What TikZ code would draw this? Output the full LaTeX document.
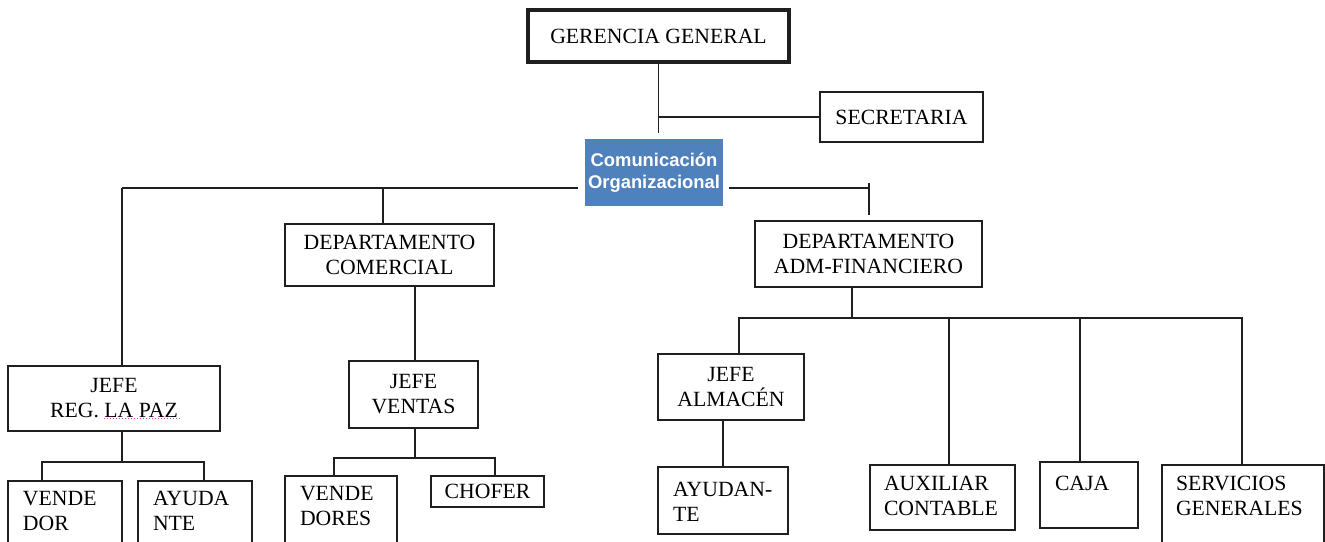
\documentclass[tikz,border=0pt]{standalone}
\usepackage{fontspec}
\setmainfont{Liberation Serif}
\newfontfamily\labelsans{Liberation Sans}
\definecolor{orgblue}{HTML}{4F81BD}
\definecolor{spellmark}{HTML}{D040D0}

% box from corner (x1,y1) to (x2,y2), y grows downward
\newcommand\orgnode[7][]{%
  \node[orgbox,#1,minimum width={(#4-#2)*1pt},minimum height={(#5-#3)*1pt}]
    (#6) at ({(#2+#4)/2},{(#3+#5)/2}) {#7};}

\begin{document}
\begin{tikzpicture}[x=1pt,y=-1pt,
  every node/.style={inner sep=0pt,outer sep=0pt},
  link/.style={draw=black!88,line width=1.8pt},
  orgbox/.style={draw=black!88,fill=white,line width=1.8pt,
    font=\fontsize{21.7}{25}\selectfont,align=center},
  toptext/.style={anchor=north west,align=left,
    font=\fontsize{21.7}{25.5}\selectfont},
  headbox/.style={line width=4.5pt},
  blueitem/.style={fill=orgblue,draw=none,text=white,
    font=\labelsans\bfseries\fontsize{18.4}{22}\selectfont}]

\useasboundingbox (0,0) rectangle (1325,541);
\clip (0,0) rectangle (1325,541);

% top of the chart
\orgnode[headbox]{528}{10}{789}{62}{gg}{GERENCIA GENERAL}
\orgnode{820}{92}{983}{142}{sec}{SECRETARIA}
\orgnode[blueitem]{585}{139}{723}{206}{com}{Comunicación\\Organizacional}

% departments
\orgnode{285}{224}{494}{286}{dc}{DEPARTAMENTO\\COMERCIAL}
\orgnode{755}{221}{982}{287}{da}{DEPARTAMENTO\\ADM-FINANCIERO}

% second level
\orgnode{8}{366}{220}{431}{jr}{JEFE\\REG. LA PAZ}
\orgnode{349}{361}{478}{428}{jv}{JEFE\\VENTAS}
\orgnode{658}{354}{804}{420}{ja}{JEFE\\ALMACÉN}

% bottom level
\orgnode{8}{481}{122}{570}{vd}{}
\orgnode{138}{481}{252}{570}{ay}{}
\orgnode{285}{476}{397}{570}{vds}{}
\orgnode{431}{476}{544}{507}{ch}{CHOFER}
\orgnode{658}{467}{788}{534}{ayb}{}
\orgnode{870}{465}{1015}{530}{aux}{}
\orgnode{1040}{462}{1138}{528}{caja}{}
\orgnode{1162}{465}{1324}{570}{serv}{}

\node[toptext] (vd-t)   at ([shift={(15,10)}]vd.north west)   {VENDE\\DOR};
\node[toptext] (ay-t)   at ([shift={(15,10)}]ay.north west)   {AYUDA\\NTE};
\node[toptext] (vds-t)  at ([shift={(15,10)}]vds.north west)  {VENDE\\DORES};
\node[toptext] (ayb-t)  at ([shift={(15,15)}]ayb.north west)  {AYUDAN-\\TE};
\node[toptext] (aux-t)  at ([shift={(14,11)}]aux.north west)  {AUXILIAR\\CONTABLE};
\node[toptext] (caja-t) at ([shift={(15,14)}]caja.north west) {CAJA};
\node[toptext] (serv-t) at ([shift={(14,11)}]serv.north west) {SERVICIOS\\GENERALES};

% spelling mark under the place name
\draw[spellmark,line width=1pt,dotted] (104,418) -- (180,418);

% junction points
\coordinate (bl) at (122,188);
\coordinate (bc) at (383,188);
\coordinate (br) at (869,188);
\coordinate (brt) at (869,183);
\coordinate (jrj) at (122,462);
\coordinate (jrl) at (42,462);
\coordinate (jrr) at (204,462);
\coordinate (jvj) at (415,458);
\coordinate (jvl) at (334,458);
\coordinate (jvr) at (495,458);
\coordinate (daj) at (852,318);
\coordinate (dal) at (739,318);
\coordinate (dar) at (1242,318);
\coordinate (jaj) at (723,420);

% connectors
\draw[link,shorten >=6pt] (gg.south) -- (gg.south |- com.north);
\draw[link] (sec.west) -- (sec.west -| gg.south);
\draw[link,shorten >=7pt] (bl) -- (com.west |- bl);
\draw[link] (bl) -- (bl |- jr.north);
\draw[link] (bc) -- (bc |- dc.north);
\draw[link,shorten <=6pt] (com.east |- br) -- (br);
\draw[link,shorten >=6pt] (brt) -- (brt |- da.north);

\draw[link] (jvj |- dc.south) -- (jvj |- jv.north);
\draw[link] (jrj |- jr.south) -- (jrj);
\draw[link] (jrl |- vd.north) -- (jrl) -- (jrr) -- (jrr |- ay.north);
\draw[link] (jvj |- jv.south) -- (jvj);
\draw[link] (jvl |- vds.north) -- (jvl) -- (jvr) -- (jvr |- ch.north);

\draw[link] (daj |- da.south) -- (daj);
\draw[link] (dal |- ja.north) -- (dal) -- (dar) -- (dar |- serv.north);
\draw[link] (aux.north -| 949,0) -- (949,318);
\draw[link] (caja.north -| 1080,0) -- (1080,318);
\draw[link] (jaj |- ja.south) -- (jaj |- ayb.north);
\end{tikzpicture}
\end{document}
